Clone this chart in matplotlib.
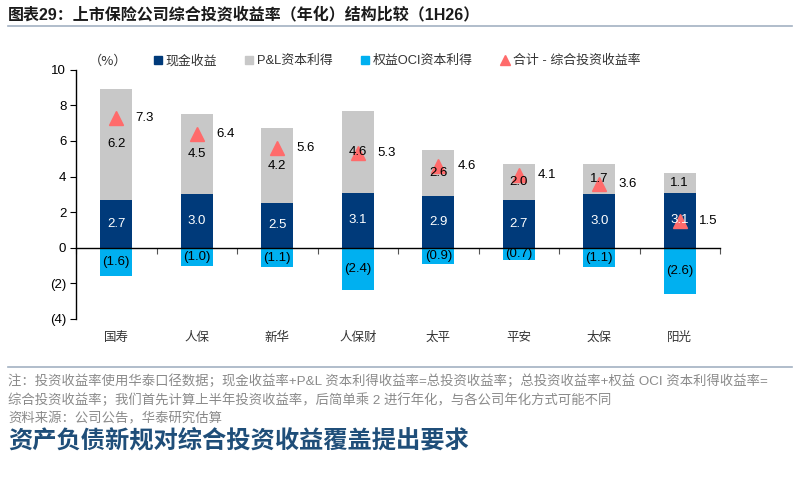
import numpy as np
import matplotlib
matplotlib.use("Agg")
import matplotlib.pyplot as plt
import matplotlib.transforms as mtransforms
from matplotlib.patches import Patch
from matplotlib.lines import Line2D
from matplotlib.ticker import FuncFormatter

plt.rcParams['font.family'] = ['Liberation Sans', 'Noto Sans CJK SC', 'DejaVu Sans']

# data
companies = ['国寿', '人保', '新华', '人保财', '太平', '平安', '太保', '阳光']
cash_yield = [2.7, 3.0, 2.5, 3.1, 2.9, 2.7, 3.0, 3.1]
pnl_gain = [6.2, 4.5, 4.2, 4.6, 2.6, 2.0, 1.7, 1.1]
oci_gain = [-1.6, -1.0, -1.1, -2.4, -0.9, -0.7, -1.1, -2.6]
total_yield = [7.3, 6.4, 5.6, 5.3, 4.6, 4.1, 3.6, 1.5]

c_cash = '#003A7A'
c_pnl = '#C8C8C8'
c_oci = '#00B0F0'
c_tri = '#FF6B6B'

fig = plt.figure(figsize=(8, 4.87), dpi=100)
ax = fig.add_axes([0.095, 0.345, 0.805, 0.512])

x = np.arange(len(companies))
w = 0.4
ax.bar(x, cash_yield, w, color=c_cash, zorder=1)
ax.bar(x, pnl_gain, w, bottom=cash_yield, color=c_pnl, zorder=1)
ax.bar(x, oci_gain, w, color=c_oci, zorder=1)
ax.plot(x, total_yield, linestyle='none', marker='^', ms=10, color=c_tri, zorder=2)

for i in range(len(companies)):
    ax.text(x[i], cash_yield[i] / 2, f'{cash_yield[i]:.1f}', color='white',
            ha='center', va='center', fontsize=9.5, zorder=3)
    ax.text(x[i], cash_yield[i] + pnl_gain[i] / 2, f'{pnl_gain[i]:.1f}', color='black',
            ha='center', va='center', fontsize=9.5, zorder=3)
    ax.text(x[i], oci_gain[i] / 2, f'({abs(oci_gain[i]):.1f})', color='black',
            ha='center', va='center', fontsize=9.5, zorder=3)
    ax.text(x[i] + 0.24, total_yield[i], f'{total_yield[i]:.1f}', color='black',
            ha='left', va='center', fontsize=9.5, zorder=3)

ax.set_xlim(-0.5, len(companies) - 0.5)
ax.set_ylim(-4, 10)
ax.set_yticks(np.arange(-4, 11, 2))
ax.yaxis.set_major_formatter(FuncFormatter(lambda v, p: f'({abs(int(v))})' if v < 0 else f'{int(v)}'))
ax.tick_params(axis='y', direction='out', length=4, width=0.8, labelsize=9.5, pad=3)

ax.spines['top'].set_visible(False)
ax.spines['right'].set_visible(False)
ax.spines['bottom'].set_position(('data', 0))
ax.spines['bottom'].set_linewidth(1)
ax.spines['left'].set_linewidth(1)
ax.set_xticks(np.arange(-0.5, len(companies), 1))
ax.set_xticklabels([])
ax.tick_params(axis='x', direction='out', length=4, width=0.8, color='#555555')

trans = mtransforms.blended_transform_factory(ax.transData, ax.transAxes)
for i, name in enumerate(companies):
    ax.text(x[i], -0.076, name, transform=trans, ha='center', va='center',
            fontsize=9, color='#333333')

ax.text(0.02, 1.035, '（%）', transform=ax.transAxes, ha='left', va='center',
        fontsize=9.5, color='#333333', family=['Noto Sans CJK SC'])

handles = [Patch(color=c_cash), Patch(color=c_pnl), Patch(color=c_oci),
           Line2D([], [], linestyle='none', marker='^', ms=7, color=c_tri)]
labels = ['现金收益', 'P&L资本利得', '权益OCI资本利得', '合计 - 综合投资收益率']
ax.legend(handles, labels, ncol=4, frameon=False, fontsize=9.3,
          loc='center left', bbox_to_anchor=(0.103, 1.035),
          handlelength=0.6, handleheight=0.6, handletextpad=0.3, columnspacing=2.2,
          labelcolor='#333333')

# title, rules, notes
fig.text(0.01, 0.971, '图表29：上市保险公司综合投资收益率（年化）结构比较（1H26）',
         ha='left', va='center', fontsize=11.5, fontweight='bold', color='#1a1a1a')
fig.add_artist(Line2D([0.01, 0.99], [0.947, 0.947], color='#A3B1C2', lw=1.2))
fig.add_artist(Line2D([0.01, 0.99], [0.247, 0.247], color='#A3B1C2', lw=1.2))

note1 = '注：投资收益率使用华泰口径数据；现金收益率+P&L 资本利得收益率=总投资收益率；总投资收益率+权益 OCI 资本利得收益率='
note2 = '综合投资收益率；我们首先计算上半年投资收益率，后简单乘 2 进行年化，与各公司年化方式可能不同'
note3 = '资料来源：公司公告，华泰研究估算'
fig.text(0.01, 0.218, note1, ha='left', va='center', fontsize=9.6, color='#8a8a8a')
fig.text(0.01, 0.179, note2, ha='left', va='center', fontsize=9.6, color='#8a8a8a')
fig.text(0.01, 0.140, note3, ha='left', va='center', fontsize=9.6, color='#8a8a8a')

fig.text(0.01, 0.092, '资产负债新规对综合投资收益覆盖提出要求', ha='left', va='center',
         fontsize=17.5, fontweight='bold', color='#1F4E79')

fig.savefig('out.png', dpi=100)
